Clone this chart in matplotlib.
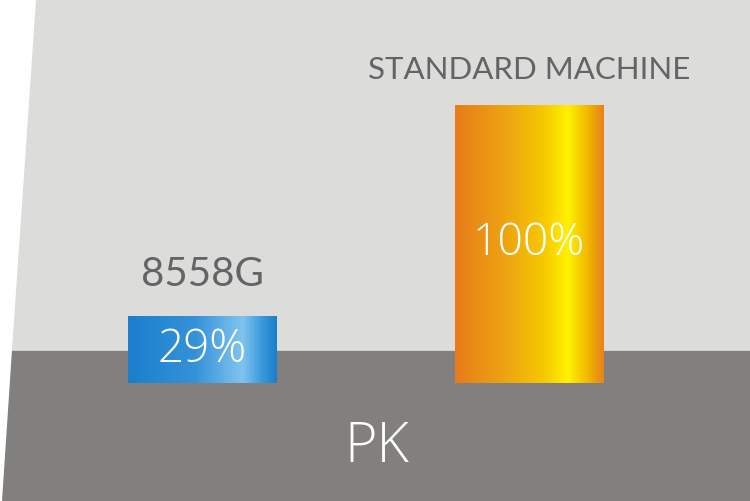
import numpy as np
import matplotlib.pyplot as plt
from matplotlib.colors import LinearSegmentedColormap
from matplotlib.patches import Polygon

# chart data
categories = ['8558G', 'STANDARD MACHINE']
percent_labels = [29, 100]
bar_heights = [24, 100]   # drawn heights
axis_label = 'PK'

plt.rcParams['font.family'] = ['Lato', 'DejaVu Sans']
light_font = ['Open Sans', 'DejaVu Sans']

fig = plt.figure(figsize=(7.5, 5.01), dpi=100)

# background: light gray panel with slanted left edge, dark gray floor
bg = fig.add_axes([0, 0, 1, 1], zorder=0)
bg.set_xlim(0, 750)
bg.set_ylim(501, 0)
bg.set_axis_off()
bg.add_patch(Polygon([(36, 0), (750, 0), (750, 350), (12, 350)], closed=True,
                     facecolor='#dcdcdb', edgecolor='none'))
bg.add_patch(Polygon([(12, 350), (750, 350), (750, 501), (2, 501)], closed=True,
                     facecolor='#81807e', edgecolor='none'))
bg.plot([12, 750], [350, 350], color='#e2e2e1', lw=0.6)
bg.text(377, 447, axis_label, ha='center', va='center', fontsize=40,
        family=light_font, fontweight=300, color='white')

# bar axes
ax = fig.add_axes([39.25 / 750, (501 - 383) / 501, 653 / 750, (383 - 105) / 501], zorder=1)
ax.set_xlim(-0.5, 1.5)
ax.set_ylim(0, 100)
ax.set_axis_off()
ax.patch.set_alpha(0)

blue = LinearSegmentedColormap.from_list('blue', [
    (0.0, '#1a7fcc'), (0.45, '#3592d9'), (0.77, '#80c4ef'),
    (0.9, '#3b9adc'), (1.0, '#1b7ecb')])
orange = LinearSegmentedColormap.from_list('orange', [
    (0.0, '#e87c1a'), (0.35, '#eea512'), (0.6, '#f6c900'),
    (0.76, '#fff200'), (0.9, '#f0b400'), (1.0, '#e8821e')])
cmaps = [blue, orange]
pct_sizes = [33, 32]

bars = ax.bar(range(len(categories)), bar_heights, width=0.455, color='none')
grad = np.linspace(0, 1, 256).reshape(1, -1)
for i, b in enumerate(bars):
    x0, y0 = b.get_x(), b.get_y()
    w, h = b.get_width(), b.get_height()
    im = ax.imshow(grad, cmap=cmaps[i], aspect='auto',
                   extent=[x0, x0 + w, y0, y0 + h], zorder=2)
    im.set_clip_path(b)
    # percentage inside the bar
    ax.text(i, h / 2, f'{percent_labels[i]}%', ha='center', va='center',
            fontsize=pct_sizes[i], family=light_font, fontweight=300,
            color='white', zorder=3)

# category labels above bars
ax.text(0, bar_heights[0] + 15, categories[0], ha='center', va='center',
        fontsize=29, color='#646464')
ax.text(1, bar_heights[1] + 12.6, categories[1], ha='center', va='center',
        fontsize=22.5, color='#646464')

ax.set_xlim(-0.5, 1.5)
ax.set_ylim(0, 100)

fig.savefig('out.png', dpi=100)
